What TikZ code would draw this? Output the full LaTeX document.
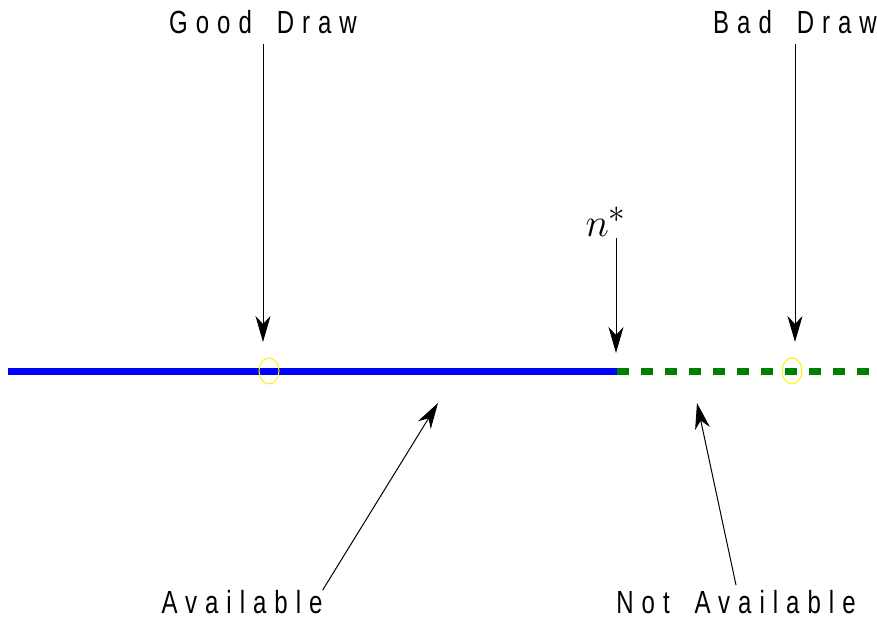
\documentclass[tikz,border=0pt]{standalone}
\usepackage{graphicx}
\usepackage{fontspec}
\usepackage{tikz}
\usetikzlibrary{arrows.meta}
\newfontfamily\narrowfont[FakeStretch=0.75,LetterSpace=25,WordSpace=1.7]{Liberation Sans}

\begin{document}
\begin{tikzpicture}[x=1pt,y=-1pt,
    lbl/.style={font=\fontsize{32}{32}\selectfont\narrowfont,inner sep=2pt},
    ptr/.style={-{Stealth[length=26pt,width=15pt,inset=8pt]},line width=1pt},
    drawring/.style={draw=yellow,line width=1pt}]
  \useasboundingbox (0,0) rectangle (877,621);
  % the line
  \coordinate (left) at (8,371);
  \coordinate (nstar) at (617,371);
  \coordinate (right) at (877,371);
  \draw[blue,line width=7pt] (left) -- (nstar);
  \draw[green!50!black,line width=7pt,dash pattern=on 12pt off 12pt] (nstar) -- (right);
  \draw[drawring] (269,371) ellipse (10 and 13);
  \draw[drawring] (792,371) ellipse (10 and 13);
  % labels
  \node[lbl] (good) at (263,22) {Good Draw};
  \node[lbl] (bad) at (795,22) {Bad Draw};
  \node[font=\fontsize{24.88}{25}\selectfont,inner sep=0pt] (nlabel) at (606,222)
    {\scalebox{1.6}{$n^*$}};
  \node[lbl] (avail) at (242,602) {Available};
  \node[lbl] (notavail) at (736,602) {Not Available};
  % arrows
  \coordinate (goodtip) at (263,342);
  \coordinate (badtip) at (795,342);
  \coordinate (nstart) at (616,238);
  \coordinate (ntip) at (616,353);
  \coordinate (availtip) at (438,403);
  \coordinate (notavailtip) at (697,403);
  \draw[ptr] (good.south) ++(0,8) -- (goodtip);
  \draw[ptr] (bad.south) ++(0,8) -- (badtip);
  \draw[ptr] (nstart) -- (ntip);
  \draw[ptr] (avail.north east) ++(-2,2) -- (availtip);
  \draw[ptr] (notavail.north) ++(0,-3) -- (notavailtip);
\end{tikzpicture}
\end{document}
